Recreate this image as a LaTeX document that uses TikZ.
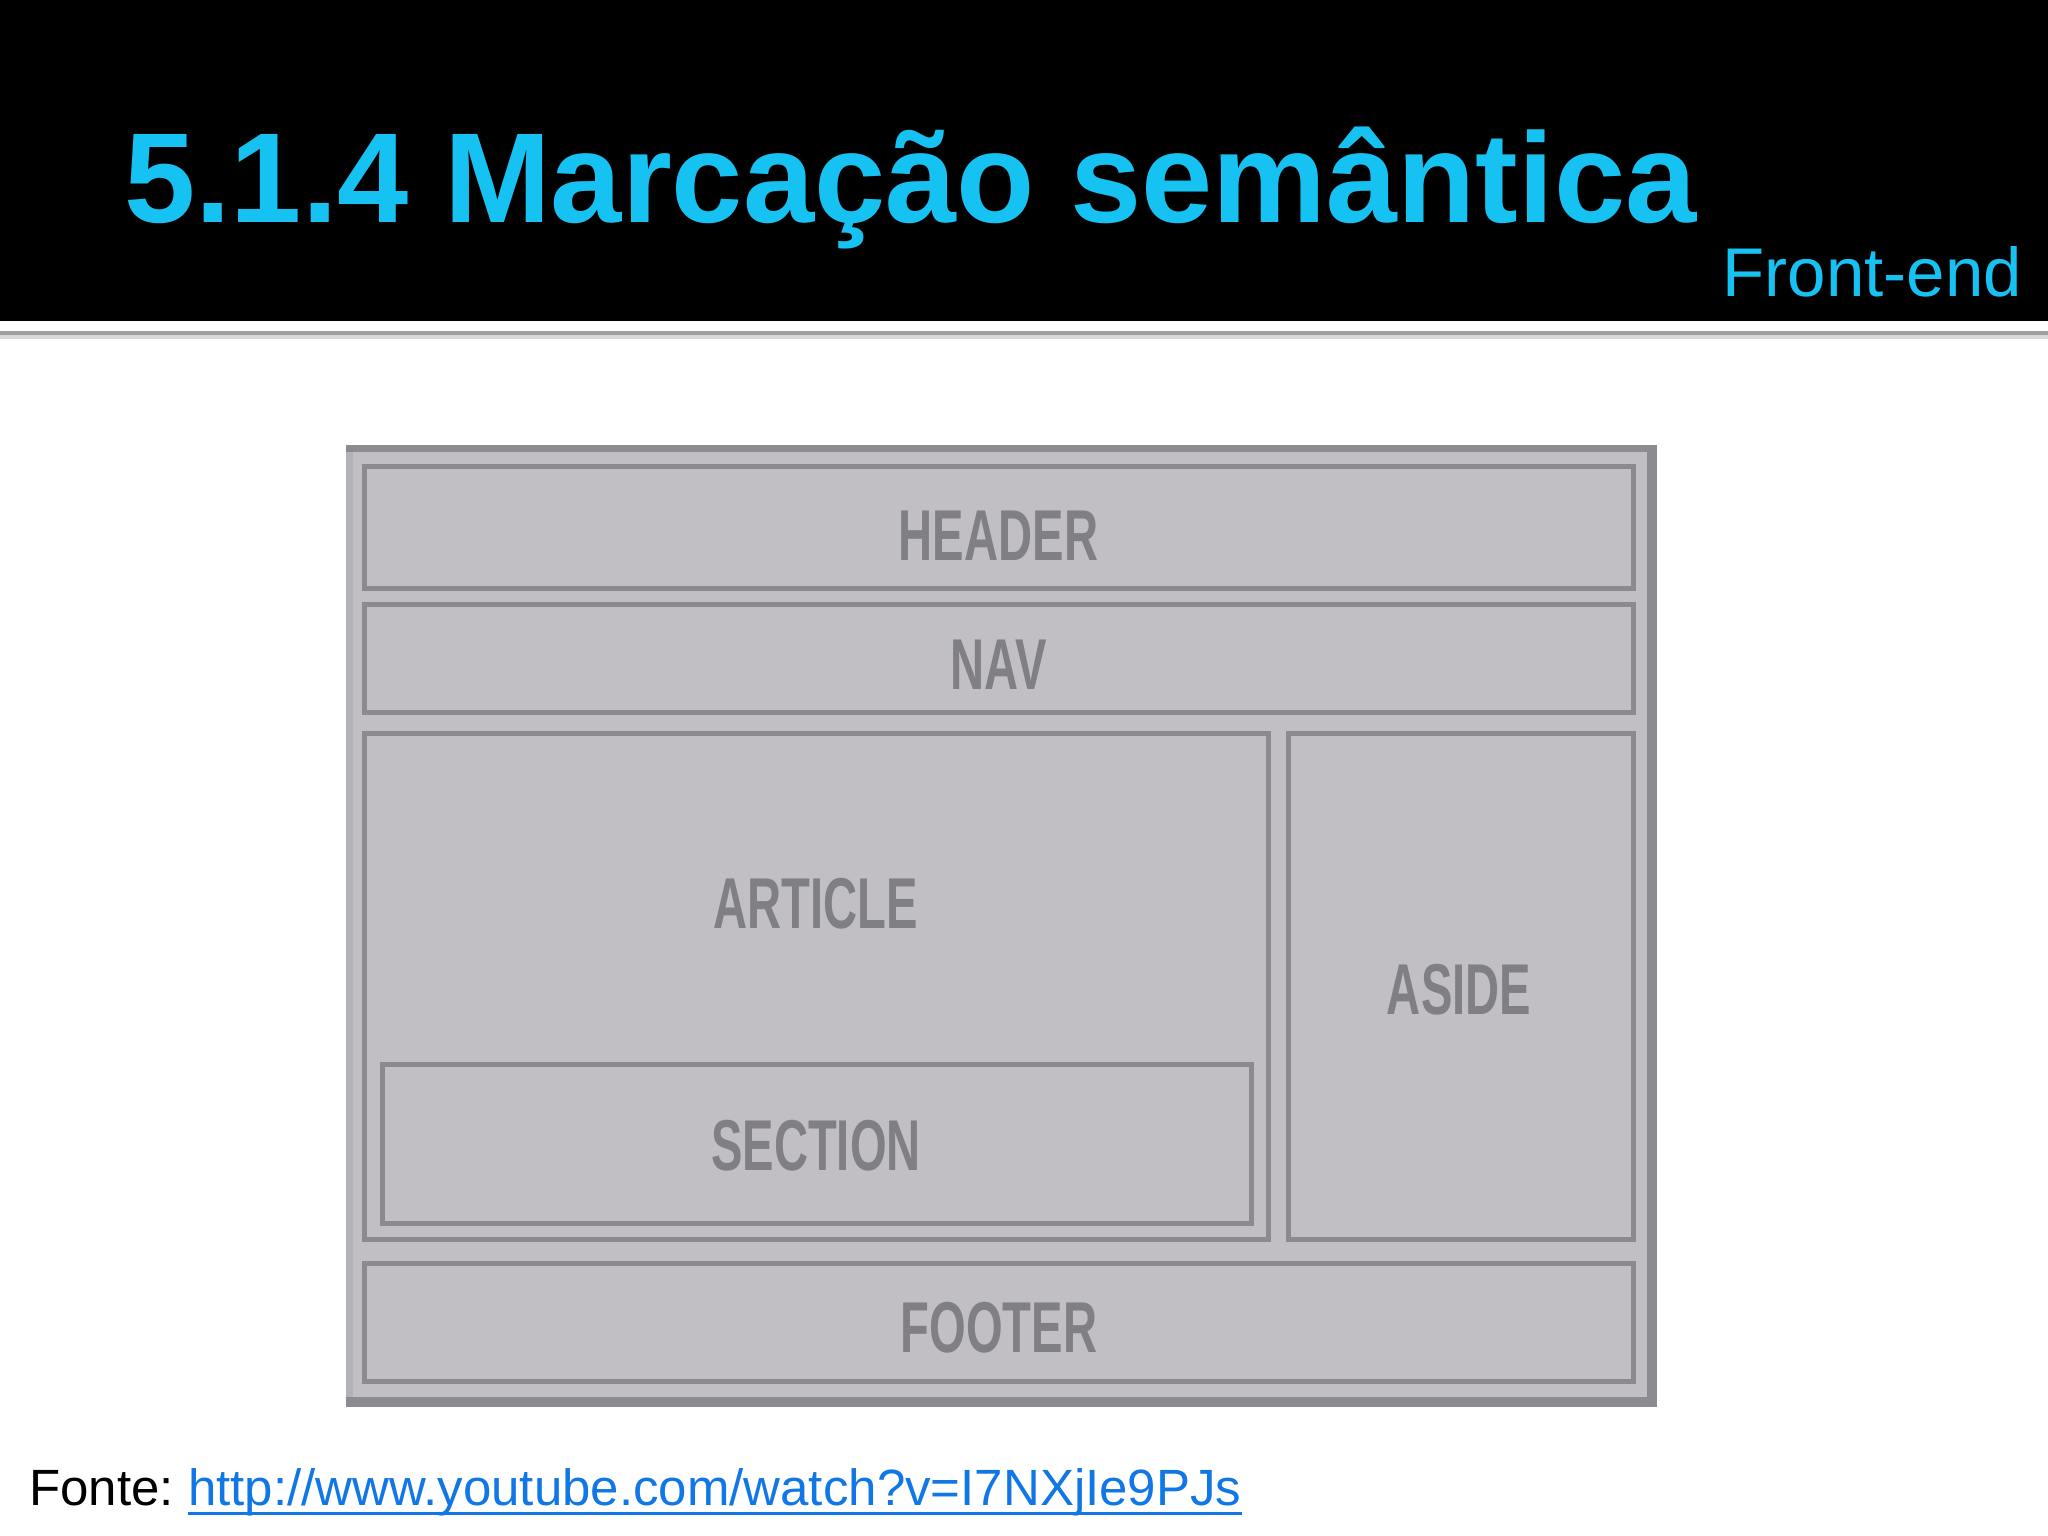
\documentclass[tikz,border=0pt]{standalone}
\usepackage{fontspec}
\setmainfont{Liberation Sans}
\newfontfamily\labelfont[FakeStretch=0.655]{Liberation Sans}
\definecolor{titlecyan}{RGB}{22,194,242}
\definecolor{panel}{RGB}{193,191,195}
\definecolor{boxline}{RGB}{139,138,142}
\definecolor{framedark}{RGB}{140,139,143}
\definecolor{frameleft}{RGB}{180,178,182}
\definecolor{lbltext}{RGB}{128,127,131}
\definecolor{urlblue}{RGB}{17,119,230}
\definecolor{sepgray}{RGB}{160,160,160}
\begin{document}
\begin{tikzpicture}[x=1pt,y=-1pt,
  box/.style={draw=boxline, line width=5pt, fill=panel, inner sep=0pt},
  lbl/.style={inner sep=0pt, text=lbltext, font=\labelfont\bfseries\fontsize{72}{80}\selectfont}]
\useasboundingbox (0,0) rectangle (2048,1536);
\fill[white] (0,0) rectangle (2048,1536);
% top band
\fill[black] (0,0) rectangle (2048,321);
\fill[sepgray] (0,331) rectangle (2048,335);
\fill[black!15] (0,335) rectangle (2048,339);
\node[anchor=base west, inner sep=0pt, text=titlecyan,
      font=\fontsize{128}{150}\selectfont\bfseries] (title) at (124,222) {5.1.4 Marcação semântica};
\node[anchor=base east, inner sep=0pt, text=titlecyan,
      font=\fontsize{69}{80}\selectfont] (frontend) at (2022,296) {Front-end};
% outer frame
\fill[panel] (346,445) rectangle (1657,1407);
\fill[frameleft] (346,445) rectangle (353,1407);
\fill[framedark] (346,445) rectangle (1657,452);
\fill[framedark] (1647,445) rectangle (1657,1407);
\fill[framedark] (346,1397) rectangle (1657,1407);
% boxes
\node[box, minimum width=1269pt, minimum height=122pt] (header) at (998.5,527) {};
\node[box, minimum width=1269pt, minimum height=108pt] (nav) at (998.5,658) {};
\node[box, minimum width=904pt, minimum height=506pt] (article) at (816,986) {};
\node[box, minimum width=869pt, minimum height=159pt] (section) at (816.5,1143.5) {};
\node[box, minimum width=345pt, minimum height=506pt] (aside) at (1460.5,986) {};
\node[box, minimum width=1269pt, minimum height=118pt] (footer) at (998.5,1322) {};
% labels
\node[lbl] (headerlbl) at (998.5,535.5) {HEADER};
\node[lbl] (navlbl) at (998.5,665) {NAV};
\node[lbl] (articlelbl) at (816,904) {ARTICLE};
\node[lbl] (sectionlbl) at (816,1145.5) {SECTION};
\node[lbl] (asidelbl) at (1459,990) {ASIDE};
\node[lbl] (footerlbl) at (999,1328) {FOOTER};
% source
\node[anchor=base west, inner sep=0pt, font=\fontsize{51}{60}\selectfont] (fonte) at (29,1505) {Fonte:};
\node[anchor=base west, inner sep=0pt, text=urlblue, font=\fontsize{51}{60}\selectfont] (url) at (188,1505) {http://www.youtube.com/watch?v=I7NXjIe9PJs};
\draw[urlblue, line width=3pt] ([yshift=-8pt]url.base west) -- ([yshift=-8pt]url.base east);
\end{tikzpicture}
\end{document}
